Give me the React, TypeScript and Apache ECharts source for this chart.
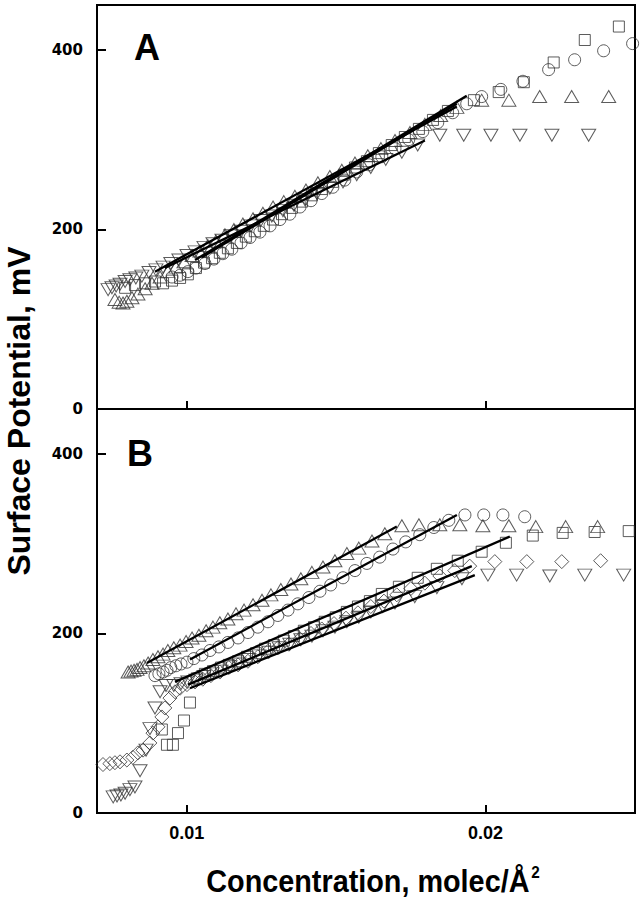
import React, { useEffect, useRef } from "react";
import * as echarts from "echarts";

type P = [number, number];

// ---------- Panel A ----------
const aSquares: P[] = [
  [0.00794, 135], [0.00827, 138], [0.00861, 140], [0.00894, 142], [0.00921, 140], [0.00951, 143],
  [0.00978, 146], [0.01004, 150], [0.01031, 157], [0.01058, 163], [0.01085, 168], [0.01111, 174],
  [0.01138, 179], [0.01168, 185], [0.01198, 192], [0.01228, 198], [0.01258, 204], [0.01289, 211],
  [0.01319, 217], [0.01352, 224], [0.01386, 231], [0.01419, 238], [0.01452, 245], [0.01489, 253],
  [0.01526, 261], [0.01563, 269], [0.01603, 276], [0.01643, 285], [0.01686, 294], [0.0173, 303],
  [0.01777, 312], [0.01824, 322], [0.01874, 332], [0.01961, 344], [0.02044, 353], [0.02128, 364],
  [0.02228, 386], [0.02332, 411], [0.02446, 426],
];
const aCircles: P[] = [
  [0.00951, 147], [0.00978, 149], [0.01004, 153], [0.01031, 157], [0.01061, 162], [0.01091, 167],
  [0.01121, 173], [0.01151, 178], [0.01182, 185], [0.01212, 191], [0.01245, 197], [0.01279, 204],
  [0.01312, 211], [0.01345, 217], [0.01379, 225], [0.01416, 232], [0.01452, 240], [0.01489, 247],
  [0.01529, 255], [0.01569, 264], [0.0161, 272], [0.01653, 281], [0.01697, 290], [0.01743, 300],
  [0.0179, 309], [0.0184, 319], [0.0189, 330], [0.01937, 340], [0.01987, 348], [0.02051, 356],
  [0.02125, 365], [0.02211, 378], [0.02298, 389], [0.02395, 399], [0.02492, 407],
];
const aUpTri: P[] = [
  [0.0076, 122], [0.00774, 119], [0.00787, 118], [0.008, 120], [0.00817, 124], [0.00837, 128],
  [0.00861, 134], [0.00884, 140], [0.00911, 147], [0.00937, 153], [0.00964, 158], [0.00991, 164],
  [0.01018, 171], [0.01044, 176], [0.01071, 182], [0.01098, 187], [0.01128, 194], [0.01158, 200],
  [0.01188, 206], [0.01222, 212], [0.01255, 218], [0.01289, 225], [0.01325, 231], [0.01362, 237],
  [0.01399, 244], [0.01439, 252], [0.01479, 259], [0.01519, 266], [0.01563, 274], [0.01606, 282],
  [0.0165, 290], [0.01697, 299], [0.01747, 308], [0.01797, 317], [0.0185, 327], [0.01904, 336],
  [0.01987, 344], [0.02078, 344], [0.02181, 348], [0.02288, 348], [0.02412, 348],
];
const aDownTri: P[] = [
  [0.00737, 133], [0.0075, 135], [0.00764, 137], [0.00777, 139], [0.00794, 142], [0.0081, 144],
  [0.0083, 146], [0.0085, 148], [0.00874, 152], [0.00897, 155], [0.00921, 158], [0.00947, 162],
  [0.00974, 166], [0.01001, 171], [0.01028, 175], [0.01058, 180], [0.01088, 184], [0.01118, 188],
  [0.01148, 193], [0.01182, 198], [0.01215, 204], [0.01248, 210], [0.01285, 215], [0.01322, 221],
  [0.01359, 227], [0.01396, 233], [0.01436, 240], [0.01479, 246], [0.01523, 253], [0.01569, 261],
  [0.01616, 269], [0.01666, 278], [0.0172, 286], [0.01773, 294], [0.01847, 305], [0.01927, 305],
  [0.02018, 305], [0.02115, 305], [0.02222, 305], [0.02345, 305],
];
const aSquaresFit: P[] = [[0.01028, 166], [0.01937, 349]];
const aCirclesFit: P[] = [[0.01051, 169], [0.01904, 340]];
const aUpTriFit: P[] = [[0.00894, 153], [0.01904, 337]];
const aDownTriFit: P[] = [[0.00927, 157], [0.01797, 299]];

// ---------- Panel B ----------
const bSquares: P[] = [
  [0.00917, 93], [0.00934, 76], [0.00954, 76], [0.00971, 89], [0.00991, 103], [0.01011, 123],
  [0.01034, 150], [0.01061, 155], [0.01088, 158], [0.01115, 162], [0.01141, 165], [0.01172, 169],
  [0.01202, 174], [0.01232, 178], [0.01262, 183], [0.01292, 187], [0.01325, 192], [0.01359, 197],
  [0.01392, 203], [0.01426, 207], [0.01462, 213], [0.01499, 218], [0.01536, 224], [0.01573, 230],
  [0.01613, 236], [0.01653, 244], [0.0171, 252], [0.01773, 262], [0.01837, 272], [0.01907, 281],
  [0.01987, 291], [0.02068, 301], [0.02158, 309], [0.02258, 312], [0.02365, 313], [0.02479, 314],
];
const bCircles: P[] = [
  [0.00894, 153], [0.00907, 155], [0.00921, 157], [0.00934, 159], [0.00947, 162], [0.00964, 164],
  [0.00981, 166], [0.01001, 168], [0.01024, 172], [0.01051, 176], [0.01078, 181], [0.01108, 185],
  [0.01138, 190], [0.01172, 195], [0.01205, 201], [0.01238, 207], [0.01272, 213], [0.01305, 220],
  [0.01339, 226], [0.01372, 233], [0.01409, 240], [0.01446, 247], [0.01482, 254], [0.01523, 262],
  [0.01563, 270], [0.01603, 278], [0.01646, 285], [0.0169, 294], [0.01733, 302], [0.0178, 310],
  [0.01827, 318], [0.01877, 326], [0.01931, 332], [0.01994, 332], [0.02058, 332], [0.02131, 330],
];
const bUpTri: P[] = [
  [0.00804, 157], [0.00814, 158], [0.00824, 159], [0.00834, 160], [0.00844, 162], [0.00857, 164],
  [0.00871, 167], [0.00887, 171], [0.00904, 174], [0.00921, 177], [0.00937, 181], [0.00957, 184],
  [0.00978, 187], [0.00998, 191], [0.01018, 195], [0.01041, 198], [0.01065, 203], [0.01088, 207],
  [0.01111, 212], [0.01138, 216], [0.01165, 222], [0.01192, 226], [0.01222, 232], [0.01252, 237],
  [0.01282, 243], [0.01315, 249], [0.01349, 255], [0.01382, 261], [0.01419, 268], [0.01456, 274],
  [0.01496, 281], [0.01536, 289], [0.01576, 295], [0.0162, 303], [0.01663, 311], [0.0172, 320],
  [0.01777, 321], [0.01847, 321], [0.01914, 321], [0.01991, 320], [0.02078, 320], [0.02168, 319],
  [0.02268, 319], [0.02375, 319],
];
const bDownTri: P[] = [
  [0.00754, 18], [0.00767, 19], [0.0078, 20], [0.00794, 22], [0.0081, 26], [0.00827, 29],
  [0.00844, 47], [0.00864, 70], [0.00877, 94], [0.00894, 117], [0.00911, 135], [0.00931, 142],
  [0.00957, 142], [0.00981, 144], [0.01004, 146], [0.01031, 148], [0.01058, 152], [0.01085, 155],
  [0.01115, 158], [0.01145, 163], [0.01175, 166], [0.01208, 171], [0.01242, 175], [0.01275, 179],
  [0.01309, 184], [0.01345, 188], [0.01382, 193], [0.01419, 197], [0.01456, 203], [0.01496, 207],
  [0.01536, 213], [0.01576, 218], [0.01616, 224], [0.01656, 230], [0.01697, 234], [0.01763, 241],
  [0.01837, 251], [0.01921, 261], [0.02008, 265], [0.02104, 265], [0.02215, 264], [0.02332, 265],
  [0.02462, 265],
];
const bDiamonds: P[] = [
  [0.0072, 54], [0.00743, 55], [0.0076, 56], [0.00777, 57], [0.008, 59], [0.0082, 62],
  [0.00837, 67], [0.00854, 70], [0.00877, 78], [0.00887, 89], [0.00904, 96], [0.00917, 107],
  [0.00927, 117], [0.00944, 128], [0.00961, 135], [0.00978, 139], [0.01001, 143], [0.01028, 146],
  [0.01054, 149], [0.01081, 153], [0.01111, 157], [0.01141, 162], [0.01172, 165], [0.01205, 169],
  [0.01238, 174], [0.01272, 180], [0.01305, 184], [0.01342, 188], [0.01379, 194], [0.01416, 200],
  [0.01452, 205], [0.01493, 211], [0.01533, 217], [0.01573, 223], [0.01616, 230], [0.0166, 236],
  [0.01703, 243], [0.0175, 250], [0.01797, 256], [0.01847, 264], [0.01897, 270], [0.01947, 275],
  [0.02031, 280], [0.02138, 280], [0.02255, 280], [0.02385, 281],
];
const bSquaresFit: P[] = [[0.00961, 146], [0.02081, 308]];
const bCirclesFit: P[] = [[0.01011, 171], [0.01904, 332]];
const bUpTriFit: P[] = [[0.00867, 167], [0.01703, 319]];
const bDownTriFit: P[] = [[0.01011, 139], [0.01964, 265]];
const bDiamondsFit: P[] = [[0.01004, 143], [0.01954, 275]];

const xTicks = [0.01, 0.02];
const yTicks = [0, 200, 400];

const MARK = "#333";
const TITLE_FONT = 'bold 32px "Liberation Sans", Arial, sans-serif';

function scatter(data: P[], idx: number, symbol: string, size: number | number[], rotate = 0) {
  return {
    type: "scatter",
    xAxisIndex: idx,
    yAxisIndex: idx,
    data,
    symbol,
    symbolSize: size,
    symbolRotate: rotate,
    itemStyle: { color: "rgba(255,255,255,0)", borderColor: MARK, borderWidth: 1 },
    silent: true,
    z: 2,
  };
}
function fit(data: P[], idx: number) {
  return {
    type: "line",
    xAxisIndex: idx,
    yAxisIndex: idx,
    data,
    symbol: "none",
    lineStyle: { color: "#000", width: 2.3 },
    silent: true,
    z: 3,
  };
}

function xAxis(idx: number, showLabels: boolean) {
  return {
    type: "value",
    gridIndex: idx,
    min: 0.007,
    max: 0.025,
    axisLine: { show: false },
    splitLine: { show: false },
    axisTick: { show: true, inside: true, length: 8, customValues: xTicks, lineStyle: { color: "#000", width: 2 } },
    axisLabel: {
      show: showLabels,
      customValues: xTicks,
      margin: 11,
      formatter: (v: number) => v.toFixed(2),
      fontFamily: "Liberation Sans",
      fontWeight: "bold",
      fontSize: 18,
      color: "#000",
    },
  };
}
function yAxis(idx: number) {
  return {
    type: "value",
    gridIndex: idx,
    min: 0,
    max: 450,
    axisLine: { show: false },
    splitLine: { show: false },
    axisTick: { show: true, inside: true, length: 9, customValues: yTicks, lineStyle: { color: "#000", width: 2 } },
    axisLabel: {
      customValues: yTicks,
      margin: 14,
      fontFamily: "DejaVu Sans",
      fontWeight: "bold",
      fontSize: 15,
      color: "#000",
    },
  };
}

export default function App() {
  const ref = useRef<HTMLDivElement>(null);
  useEffect(() => {
    const chart = echarts.init(ref.current!, null, { renderer: "svg" });
    const gridStyle = { show: true, borderColor: "#000", borderWidth: 2, backgroundColor: "rgba(0,0,0,0)" };
    chart.setOption({
      animation: false,
      backgroundColor: "#fff",
      grid: [
        { left: 97, top: 5, width: 538, height: 404, ...gridStyle },
        { left: 97, top: 409, width: 538, height: 404, ...gridStyle },
      ],
      xAxis: [xAxis(0, false), xAxis(1, true)],
      yAxis: [yAxis(0), yAxis(1)],
      series: [
        scatter(aSquares, 0, "rect", 11),
        scatter(aCircles, 0, "circle", 12),
        scatter(aUpTri, 0, "triangle", [14, 12]),
        scatter(aDownTri, 0, "triangle", [14, 12], 180),
        fit(aSquaresFit, 0),
        fit(aCirclesFit, 0),
        fit(aUpTriFit, 0),
        fit(aDownTriFit, 0),
        scatter(bSquares, 1, "rect", 11),
        scatter(bCircles, 1, "circle", 12),
        scatter(bUpTri, 1, "triangle", [14, 12]),
        scatter(bDownTri, 1, "triangle", [14, 12], 180),
        scatter(bDiamonds, 1, "diamond", [14, 14]),
        fit(bSquaresFit, 1),
        fit(bCirclesFit, 1),
        fit(bUpTriFit, 1),
        fit(bDownTriFit, 1),
        fit(bDiamondsFit, 1),
      ],
      graphic: [
        {
          type: "text",
          x: 147,
          y: 47,
          style: { text: "A", font: 'bold 36px "Liberation Sans"', fill: "#000", align: "center", verticalAlign: "middle" },
        },
        {
          type: "text",
          x: 140,
          y: 453,
          style: { text: "B", font: 'bold 36px "Liberation Sans"', fill: "#000", align: "center", verticalAlign: "middle" },
        },
        {
          type: "text",
          x: 19,
          y: 411,
          rotation: Math.PI / 2,
          scaleX: 1,
          style: {
            text: "Surface Potential, mV",
            font: TITLE_FONT,
            fill: "#000",
            align: "center",
            verticalAlign: "middle",
          },
        },
        {
          type: "text",
          x: 373,
          y: 880,
          scaleX: 0.9,
          style: {
            text: "Concentration, molec/Å{sup|2}",
            font: TITLE_FONT,
            fill: "#000",
            align: "center",
            verticalAlign: "middle",
            rich: {
              sup: { font: 'bold 17px "Liberation Sans"', fill: "#000", verticalAlign: "top", padding: [0, 0, 16, 2] },
            },
          },
        },
      ],
    });
    return () => chart.dispose();
  }, []);
  return (
    <div
      ref={ref}
      style={{ position: "absolute", left: 0, top: 0, width: 642, height: 900, background: "#fff" }}
    />
  );
}
